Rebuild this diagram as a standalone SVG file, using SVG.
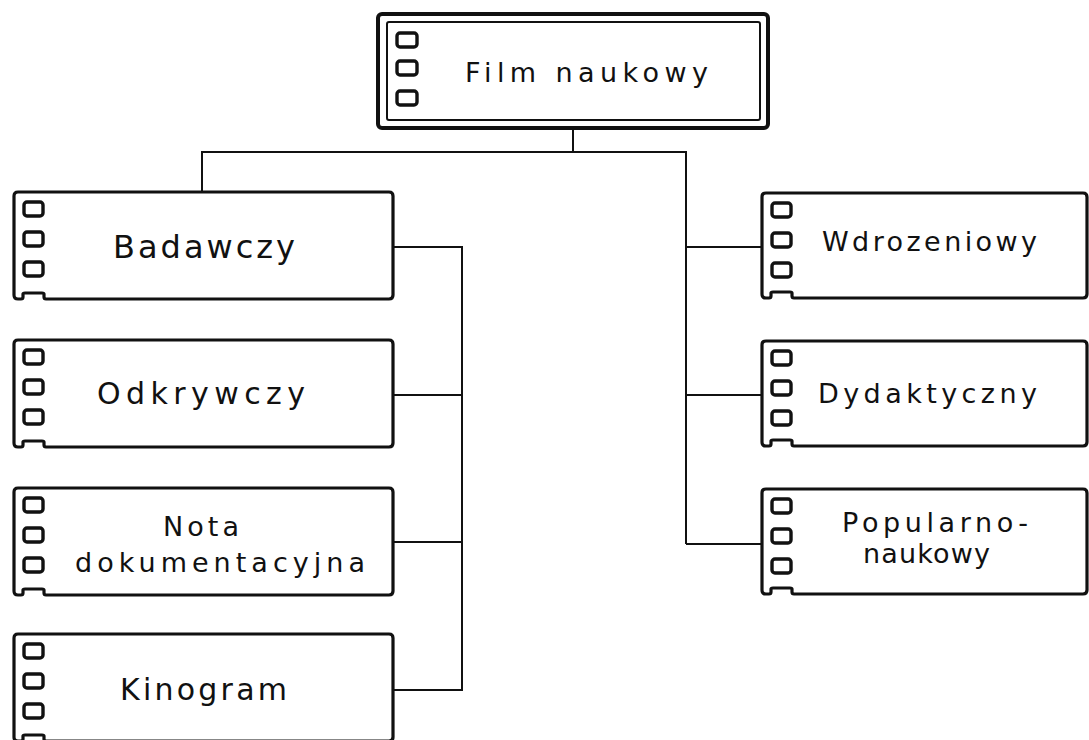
<svg xmlns="http://www.w3.org/2000/svg" xmlns:xlink="http://www.w3.org/1999/xlink" width="1089" height="740" viewBox="0 0 1089 740">
<style>
.box{fill:#fff;stroke:#111;stroke-width:3.2;stroke-linejoin:round}
.perf{fill:#fff;stroke:#111;stroke-width:3.4;}
.con{fill:none;stroke:#111;stroke-width:2}
.lbl{font-family:"DejaVu Sans","Liberation Sans",sans-serif;fill:#111;font-weight:normal}
</style>
<defs>
<path id="lbox" d="M4 0 H375 Q379 0 379 4 V103 Q379 107 375 107 H32 Q30 107 30 105 V102 Q30 101 28 101 H11 Q9 101 9 102 V105 Q9 107 7 107 H4 Q0 107 0 103 V4 Q0 0 4 0 Z"/>
<path id="rbox" d="M4 0 H321 Q325 0 325 4 V101 Q325 105 321 105 H32 Q30 105 30 103 V100 Q30 99 28 99 H11 Q9 99 9 100 V103 Q9 105 7 105 H4 Q0 105 0 101 V4 Q0 0 4 0 Z"/>
<g id="perfs">
<rect class="perf" x="10" y="10" width="19" height="14" rx="3"/>
<rect class="perf" x="10" y="40" width="19" height="14" rx="3"/>
<rect class="perf" x="10" y="70" width="19" height="14" rx="3"/>
</g>
</defs>

<g id="connectors">
<path class="con" d="M573 128 V152 M202 192 V152 H686 V544"/>
<path class="con" d="M686 247 H762 M686 395 H762 M686 544 H762"/>
<path class="con" d="M393 247 H462 V690 H393 M393 395 H462 M393 542 H462"/>
</g>

<g id="film-naukowy">
<rect x="378" y="14" width="390" height="114" rx="4" fill="#fff" stroke="#111" stroke-width="4"/>
<rect x="387" y="22" width="373" height="98" rx="2" fill="none" stroke="#111" stroke-width="2"/>
<rect class="perf" x="397" y="33" width="20" height="14" rx="3"/>
<rect class="perf" x="397" y="61" width="20" height="14" rx="3"/>
<rect class="perf" x="397" y="91" width="20" height="14" rx="3"/>
<text class="lbl" x="465" y="82" font-size="27" textLength="243" lengthAdjust="spacing">Film naukowy</text>
</g>

<g id="badawczy" transform="translate(14,192)">
<use xlink:href="#lbox" class="box"/>
<use xlink:href="#perfs"/>
<text class="lbl" x="99" y="66" font-size="32" textLength="182" lengthAdjust="spacing">Badawczy</text>
</g>

<g id="odkrywczy" transform="translate(14,340)">
<use xlink:href="#lbox" class="box"/>
<use xlink:href="#perfs"/>
<text class="lbl" x="83" y="64" font-size="30" textLength="208" lengthAdjust="spacing">Odkrywczy</text>
</g>

<g id="nota-dokumentacyjna" transform="translate(14,488)">
<use xlink:href="#lbox" class="box"/>
<use xlink:href="#perfs"/>
<text class="lbl" x="149" y="48" font-size="27" textLength="76" lengthAdjust="spacing">Nota</text>
<text class="lbl" x="61" y="84" font-size="27" textLength="290" lengthAdjust="spacing">dokumentacyjna</text>
</g>

<g id="kinogram" transform="translate(14,634)">
<use xlink:href="#lbox" class="box"/>
<use xlink:href="#perfs"/>
<text class="lbl" x="106" y="66" font-size="30" textLength="167" lengthAdjust="spacing">Kinogram</text>
</g>

<g id="wdrozeniowy" transform="translate(762,193)">
<use xlink:href="#rbox" class="box"/>
<use xlink:href="#perfs"/>
<text class="lbl" x="60" y="58" font-size="27" textLength="215" lengthAdjust="spacing">Wdrozeniowy</text>
</g>

<g id="dydaktyczny" transform="translate(762,341)">
<use xlink:href="#rbox" class="box"/>
<use xlink:href="#perfs"/>
<text class="lbl" x="56" y="62" font-size="27" textLength="219" lengthAdjust="spacing">Dydaktyczny</text>
</g>

<g id="popularno-naukowy" transform="translate(762,489)">
<use xlink:href="#rbox" class="box"/>
<use xlink:href="#perfs"/>
<text class="lbl" x="80" y="43" font-size="27" textLength="186" lengthAdjust="spacing">Popularno-</text>
<text class="lbl" x="101" y="74" font-size="27" textLength="127" lengthAdjust="spacing">naukowy</text>
</g>
</svg>
